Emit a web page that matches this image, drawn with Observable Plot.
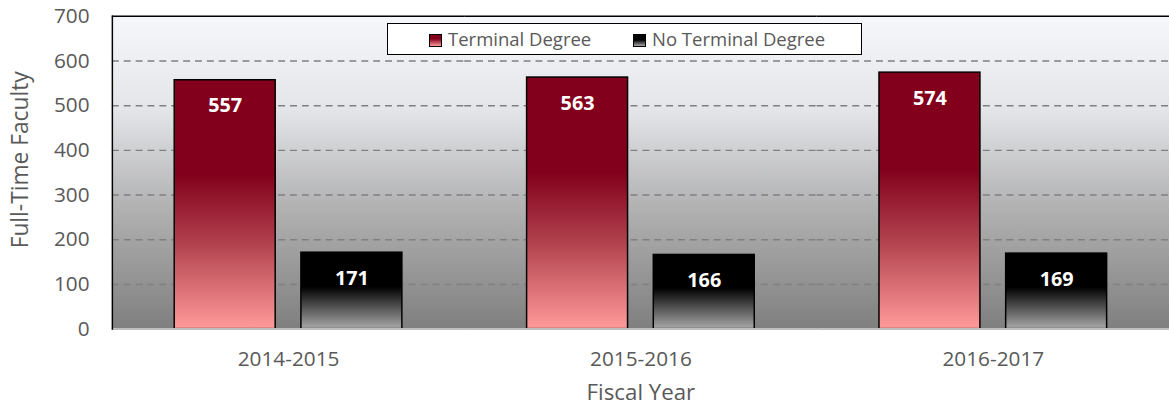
<!DOCTYPE html>
<html><head><meta charset="utf-8">
<script src="https://cdn.jsdelivr.net/npm/d3@7"></script>
<script src="https://cdn.jsdelivr.net/npm/@observablehq/plot@0.6"></script>
<style>
html,body{margin:0;padding:0;overflow:hidden;background:#fff;}
#wrap{position:relative;width:1169px;height:408px;overflow:hidden;font-family:"Open Sans",sans-serif;}
#legend{position:absolute;left:387px;top:23px;width:473px;height:30px;border:1.5px solid #000;background:#fff;color:#595959;font-size:18.5px;}
#legend .sw{position:absolute;top:10px;width:11px;height:11px;border:1px solid #000;}
#legend .tx{position:absolute;top:2px;line-height:25px;white-space:nowrap;}
</style></head>
<body>
<svg width="0" height="0" style="position:absolute">
<defs>
<linearGradient id="gBg" x1="0" y1="0" x2="0" y2="1">
<stop offset="0" stop-color="#f5f7fa"/>
<stop offset="0.3" stop-color="#e3e5e8"/>
<stop offset="0.6" stop-color="#b3b3b4"/>
<stop offset="1" stop-color="#7f7f7f"/>
</linearGradient>
<linearGradient id="gRed" x1="0" y1="0" x2="0" y2="1">
<stop offset="0" stop-color="#82001c"/>
<stop offset="0.38" stop-color="#82001c"/>
<stop offset="0.65" stop-color="#b0404c"/>
<stop offset="1" stop-color="#ff9a9a"/>
</linearGradient>
<linearGradient id="gBlack" x1="0" y1="0" x2="0" y2="1">
<stop offset="0" stop-color="#000"/>
<stop offset="0.45" stop-color="#000"/>
<stop offset="1" stop-color="#a8a8a8"/>
</linearGradient>
</defs>
</svg>
<div id="wrap">
<div id="chart"></div>
<div id="legend">
<div class="sw" style="left:41px;background:linear-gradient(#82001c 0%,#82001c 35%,#ff9a9a 100%)"></div>
<div class="tx" style="left:60px">Terminal Degree</div>
<div class="sw" style="left:245px;background:linear-gradient(#000 0%,#000 45%,#a8a8a8 100%)"></div>
<div class="tx" style="left:264px">No Terminal Degree</div>
</div>
</div>
<script>
const years = ["2014-2015", "2015-2016", "2016-2017"];
const series = ["Terminal Degree", "No Terminal Degree"];
const terminal = [557, 563, 574];
const noTerminal = [171, 166, 169];
const yTicks = [0, 100, 200, 300, 400, 500, 600, 700];
const yTitle = "Full-Time Faculty";
const xTitle = "Fiscal Year";

const rows = [];
years.forEach((yr, i) => {
  rows.push({year: yr, series: series[0], value: terminal[i]});
  rows.push({year: yr, series: series[1], value: noTerminal[i]});
});

const plot = Plot.plot({
  width: 1181, height: 408,
  marginLeft: 113, marginRight: 0, marginTop: 16, marginBottom: 76,
  style: {fontFamily: '"Open Sans", sans-serif', fontSize: "21px", color: "#595959", background: "transparent", overflow: "visible"},
  fx: {domain: years, padding: 0},
  x: {domain: series, paddingInner: 0.203, paddingOuter: 0.49, axis: null},
  y: {domain: [0, 700]},
  color: {domain: series, range: ["url(#gRed)", "url(#gBlack)"]},
  marks: [
    Plot.frame({fill: "url(#gBg)", stroke: "none", insetRight: -1, shapeRendering: "crispEdges"}),
    Plot.gridY(yTicks.slice(1, -1), {stroke: "#808080", strokeOpacity: 1, strokeWidth: 1.5, strokeDasharray: "7,5"}),
    Plot.barY(rows, {fx: "year", x: "series", y: "value", fill: "series", stroke: "#000", strokeWidth: 1.5}),
    Plot.text(rows, {fx: "year", x: "series", y: "value", text: d => String(d.value), dy: 26, fill: "#fff", fontWeight: "bold", fontSize: 20}),
    Plot.ruleY([0], {stroke: "#bfbfbf", strokeWidth: 2}),
    Plot.ruleY([700], {stroke: "#000", strokeWidth: 1.5}),
    Plot.frame({anchor: "left", stroke: "#000", strokeWidth: 1.5, fx: () => years[0]}),
    Plot.axisY({ticks: yTicks, tickSize: 0, tickPadding: 23, label: null, fontSize: 21}),
    Plot.text([yTitle], {text: d => d, frameAnchor: "left", textAnchor: "middle", lineAnchor: "middle", rotate: -90, dx: -93, dy: -13, fontSize: 23, fill: "#595959", fx: () => years[0]}),
    Plot.axisFx({anchor: "bottom", tickSize: 0, tickPadding: 22, fontSize: 21, label: null}),
    Plot.text([xTitle], {text: d => d, frameAnchor: "bottom", textAnchor: "middle", lineAnchor: "middle", dy: 64, fontSize: 22.5, fill: "#595959", fx: () => years[1]})
  ]
});
document.getElementById("chart").appendChild(plot);
</script>
</body></html>
